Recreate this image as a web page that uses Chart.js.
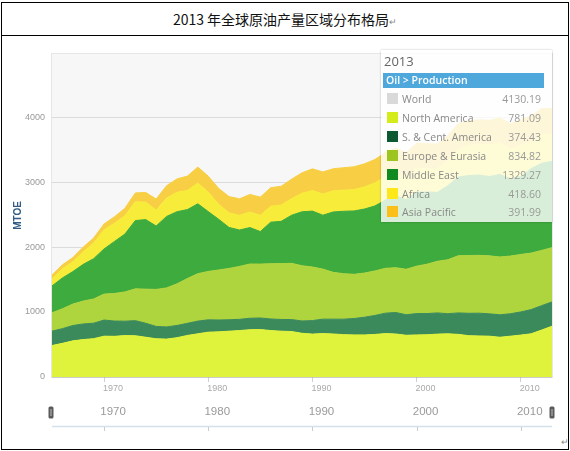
<!DOCTYPE html>
<html>
<head>
<meta charset="utf-8">
<script src="https://cdn.jsdelivr.net/npm/chart.js@4.4.1/dist/chart.umd.min.js"></script>
<style>
  body { margin: 0; width: 570px; height: 451px; overflow: hidden; position: relative; background: #fff; font-family: "Liberation Sans", Arial, sans-serif; }
  #frame { position: absolute; left: 1px; top: 2px; width: 566px; height: 446px; border: 1px solid #000; }
  #title { height: 32px; border-bottom: 1px solid #000; text-align: center; font: 14px "Noto Sans CJK SC", sans-serif; line-height: 32px; color: #111; }
  #title .ret, .ret { color: #888; font-size: 9px; }
  #corner { position: absolute; left: 561px; top: 437px; }
  #chart { position: absolute; left: 0; top: 37px; }
  #legend { position: absolute; left: 381px; top: 50px; width: 171px; height: 172px; background: rgba(255,255,255,0.8); box-shadow: 0 0 2px rgba(0,0,0,0.25); font-family: "Open Sans", sans-serif; }
  #legend .yr { position: absolute; left: 3px; top: 2px; font-size: 13px; color: #666; }
  #legend .bar { position: absolute; left: 2px; top: 23px; width: 161px; height: 15px; background: #4ea8dc; color: #fff; font-size: 10.5px; font-weight: 600; line-height: 15px; padding-left: 3px; box-sizing: border-box; }
  #legend .row { position: absolute; left: 5px; width: 155px; height: 14px; font-size: 10.5px; line-height: 14px; }
  #legend .sw { position: absolute; left: 1px; top: 1px; width: 11px; height: 11px; }
  #legend .lb { position: absolute; left: 16px; color: #888; }
  #legend .vl { position: absolute; right: 0; color: #999; }
</style>
</head>
<body>
<div id="frame"><div id="title">2013 年全球原油产量区域分布格局<span class="ret">↵</span></div></div>
<span id="corner" class="ret">↵</span>
<canvas id="chart" width="570" height="410"></canvas>
<div id="legend"></div>
<script>
// Oil production by region, million tonnes (MTOE), 1965-2013
const years = [1965, 1966, 1967, 1968, 1969, 1970, 1971, 1972, 1973, 1974,
  1975, 1976, 1977, 1978, 1979, 1980, 1981, 1982, 1983, 1984,
  1985, 1986, 1987, 1988, 1989, 1990, 1991, 1992, 1993, 1994,
  1995, 1996, 1997, 1998, 1999, 2000, 2001, 2002, 2003, 2004,
  2005, 2006, 2007, 2008, 2009, 2010, 2011, 2012, 2013];

const northAmerica = [484, 518, 556, 576, 590, 628, 626, 637, 635, 612,
  588, 583, 605, 640, 665, 690, 695, 705, 715, 728,
  730, 715, 705, 700, 672, 660, 668, 662, 652, 648,
  648, 655, 668, 662, 642, 648, 650, 660, 664, 656,
  636, 632, 628, 612, 628, 645, 665, 722, 781.09];

const southCentAmerica = [222, 226, 236, 240, 238, 248, 235, 222, 232, 215,
  190, 188, 188, 186, 195, 190, 182, 176, 172, 176,
  178, 178, 180, 184, 190, 208, 222, 228, 238, 252,
  272, 292, 314, 330, 316, 328, 326, 326, 310, 330,
  344, 350, 344, 345, 345, 356, 372, 376, 374.43];

const europeEurasia = [281, 305, 330, 352, 373, 400, 425, 450, 490, 525,
  570, 600, 640, 690, 730, 745, 770, 790, 815, 835,
  830, 850, 860, 865, 850, 825, 770, 720, 700, 680,
  680, 685, 690, 690, 700, 730, 760, 795, 830, 880,
  890, 890, 892, 890, 888, 885, 870, 850, 834.82];

const middleEast = [415, 475, 500, 565, 620, 695, 800, 890, 1050, 1070,
  975, 1100, 1110, 1060, 1075, 920, 780, 630, 560, 560,
  500, 640, 650, 740, 830, 860, 830, 930, 960, 975,
  985, 1000, 1050, 1110, 1070, 1140, 1110, 1060, 1140, 1210,
  1230, 1235, 1220, 1270, 1190, 1200, 1300, 1340, 1329.27];

const africa = [108, 140, 150, 195, 240, 295, 280, 282, 290, 268,
  245, 283, 300, 295, 320, 300, 230, 225, 225, 240,
  250, 245, 250, 255, 285, 315, 325, 325, 325, 330,
  340, 355, 365, 360, 355, 370, 368, 365, 395, 440,
  465, 470, 485, 486, 460, 475, 418, 450, 418.60];

const asiaPacific = [58, 62, 66, 72, 78, 90, 100, 115, 135, 150,
  170, 190, 205, 220, 245, 245, 245, 250, 255, 270,
  280, 285, 290, 300, 315, 335, 340, 340, 345, 350,
  355, 360, 365, 370, 368, 380, 375, 380, 380, 385,
  380, 380, 380, 385, 385, 400, 390, 392, 391.99];

const worldTotal2013 = 4130.19;
const xTicks = [1970, 1980, 1990, 2000, 2010];
const yTicks = [0, 1000, 2000, 3000, 4000];

const series = [
  { label: 'North America', data: northAmerica, fill: '#dff23c', swatch: '#d4ec1c' },
  { label: 'S. & Cent. America', data: southCentAmerica, fill: '#3a8a5c', swatch: '#0d5a32' },
  { label: 'Europe & Eurasia', data: europeEurasia, fill: '#aed43e', swatch: '#9cc520' },
  { label: 'Middle East', data: middleEast, fill: '#3dab3d', swatch: '#0f8a1e' },
  { label: 'Africa', data: africa, fill: '#f8ec3a', swatch: '#ffe81a' },
  { label: 'Asia Pacific', data: asiaPacific, fill: '#f8cf44', swatch: '#fbbf1a' },
];

// gray panel behind the areas
const panelBg = {
  id: 'panelBg',
  beforeDraw(chart) {
    const { ctx, chartArea: a } = chart;
    ctx.save();
    ctx.fillStyle = '#f7f7f7';
    ctx.fillRect(a.left, a.top, a.right - a.left, a.bottom - a.top);
    ctx.strokeStyle = '#e6e6e6';
    ctx.strokeRect(a.left - 0.5, a.top - 0.5, a.right - a.left + 1, a.bottom - a.top + 1);
    ctx.restore();
  }
};

// range slider under the axis
const slider = {
  id: 'slider',
  afterDraw(chart) {
    const { ctx, chartArea: a } = chart;
    const x = chart.scales.x;
    ctx.save();
    ctx.fillStyle = '#9a9a9a';
    ctx.font = '11.5px "Liberation Sans", Arial, sans-serif';
    ctx.textAlign = 'center';
    ctx.textBaseline = 'middle';
    xTicks.forEach(v => ctx.fillText(String(v), x.getPixelForValue(v) + 9, 375));
    ctx.strokeStyle = '#d3e2ea';
    ctx.lineWidth = 1.5;
    ctx.beginPath();
    ctx.moveTo(a.left, 389.5);
    ctx.lineTo(a.right, 389.5);
    ctx.stroke();
    ctx.strokeStyle = '#cccccc';
    ctx.lineWidth = 1;
    xTicks.forEach(v => {
      const px = Math.round(x.getPixelForValue(v)) + 0.5;
      ctx.beginPath();
      ctx.moveTo(px, 390);
      ctx.lineTo(px, 394);
      ctx.stroke();
    });
    [a.left - 1, a.right].forEach(hx => {
      ctx.fillStyle = '#5a5a5a';
      ctx.beginPath();
      ctx.roundRect(hx - 2.5, 369.5, 5, 12, 1.5);
      ctx.fill();
      ctx.fillStyle = '#bbbbbb';
      ctx.fillRect(hx - 0.5, 372, 1, 7);
    });
    ctx.restore();
  }
};

new Chart(document.getElementById('chart'), {
  type: 'line',
  data: {
    datasets: series.map((s, i) => ({
      label: s.label,
      data: years.map((yr, j) => ({ x: yr, y: s.data[j] })),
      backgroundColor: s.fill,
      borderColor: s.fill,
      borderWidth: 1,
      pointRadius: 0,
      tension: 0,
      fill: i === 0 ? 'origin' : '-1',
    }))
  },
  options: {
    responsive: false,
    animation: false,
    layout: { padding: { top: 17, right: 18, left: 0, bottom: 0 } },
    plugins: { legend: { display: false }, tooltip: { enabled: false } },
    scales: {
      x: {
        type: 'linear', min: 1965, max: 2013,
        afterBuildTicks: s => { s.ticks = xTicks.map(v => ({ value: v })); },
        afterFit: s => { s.height = 70; },
        ticks: { callback: v => String(v), color: '#aaa', font: { size: 9 }, labelOffset: 9, padding: 1, maxRotation: 0 },
        grid: { drawOnChartArea: false, tickLength: 5, color: '#d0d0d0' },
        border: { display: false }
      },
      y: {
        stacked: true, min: 0, max: 4970, z: 1,
        afterBuildTicks: s => { s.ticks = yTicks.map(v => ({ value: v })); },
        afterFit: s => { s.width = 52; },
        ticks: { callback: v => String(v), color: '#999', font: { size: 9 }, padding: 7 },
        grid: { color: 'rgba(0,0,0,0.11)', drawTicks: false },
        border: { display: false },
        title: { display: true, text: 'MTOE', color: '#2f5b84', font: { size: 10, weight: 'bold' }, padding: { top: 12, bottom: 0 } }
      }
    }
  },
  plugins: [panelBg, slider]
});

// 2013 value box
const legendRows = [{ label: 'World', swatch: '#d9d9d9', value: worldTotal2013 }]
  .concat(series.map(s => ({ label: s.label, swatch: s.swatch, value: s.data[s.data.length - 1] })));
let html = '<div class="yr">2013</div><div class="bar">Oil &gt; Production</div>';
legendRows.forEach((r, i) => {
  const top = 42 + i * 18.9;
  html += `<div class="row" style="top:${top}px"><span class="sw" style="background:${r.swatch}"></span>` +
    `<span class="lb">${r.label}</span><span class="vl">${r.value.toFixed(2)}</span></div>`;
});
document.getElementById('legend').innerHTML = html;
</script>
</body>
</html>
